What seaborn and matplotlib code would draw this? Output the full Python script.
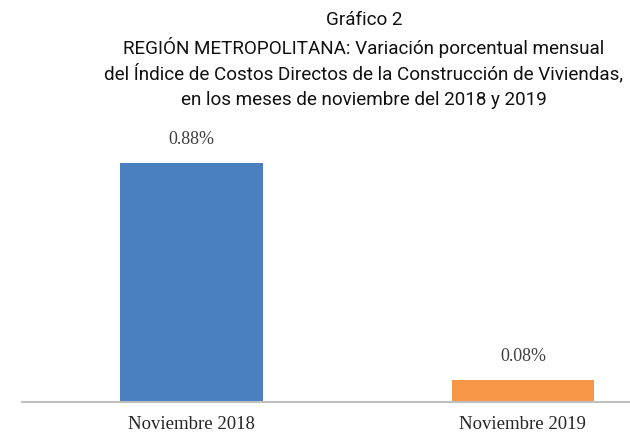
import matplotlib
matplotlib.use("Agg")
import matplotlib.pyplot as plt
import seaborn as sns
import pandas as pd

categories = ["Noviembre 2018", "Noviembre 2019"]
values = [0.88, 0.08]
labels = ["0.88%", "0.08%"]
colors = ["#4A80C0", "#F79646"]
title_lines = [
    "Gráfico 2",
    "REGIÓN METROPOLITANA: Variación porcentual mensual",
    "del Índice de Costos Directos de la Construcción de Viviendas,",
    "en los meses de noviembre del 2018 y 2019",
]

sns.set_theme(style="white")
plt.rcParams['font.family'] = ['Roboto', 'DejaVu Sans']

df = pd.DataFrame({"cat": categories, "val": values})

fig = plt.figure(figsize=(6.3, 4.34), dpi=100)
ax = fig.add_axes([22 / 630, 1 - 402 / 434, 1 - 22 / 630, 272 / 434])
sns.barplot(data=df, x="cat", y="val", hue="cat", palette=colors, width=0.43,
            legend=False, ax=ax, saturation=1, linewidth=0)

ax.set_xlim(-0.511, 1.323)
ax.set_ylim(0, 1.0)
ax.set_xlabel("")
ax.set_ylabel("")
ax.set_yticks([])
for s in ["top", "right", "left"]:
    ax.spines[s].set_visible(False)
ax.spines["bottom"].set_color("#BFBFBF")
ax.spines["bottom"].set_linewidth(1.5)
ax.tick_params(axis="x", length=0, pad=10)
for t in ax.get_xticklabels():
    t.set_fontfamily(["Liberation Serif", "DejaVu Serif"])
    t.set_fontsize(13.5)
    t.set_color("#262626")

for i, (v, lab) in enumerate(zip(values, labels)):
    ax.annotate(lab, (i, v), xytext=(0, 17), textcoords="offset points",
                ha="center", va="center", fontsize=13, color="#404040",
                family=["Liberation Serif", "DejaVu Serif"])

ys = [20, 47, 74, 100]
for line, y in zip(title_lines, ys):
    fig.text(364 / 630, 1 - y / 434, line, ha="center", va="center",
             fontsize=13.6, color="#111111")

fig.savefig("out.png", dpi=100)
